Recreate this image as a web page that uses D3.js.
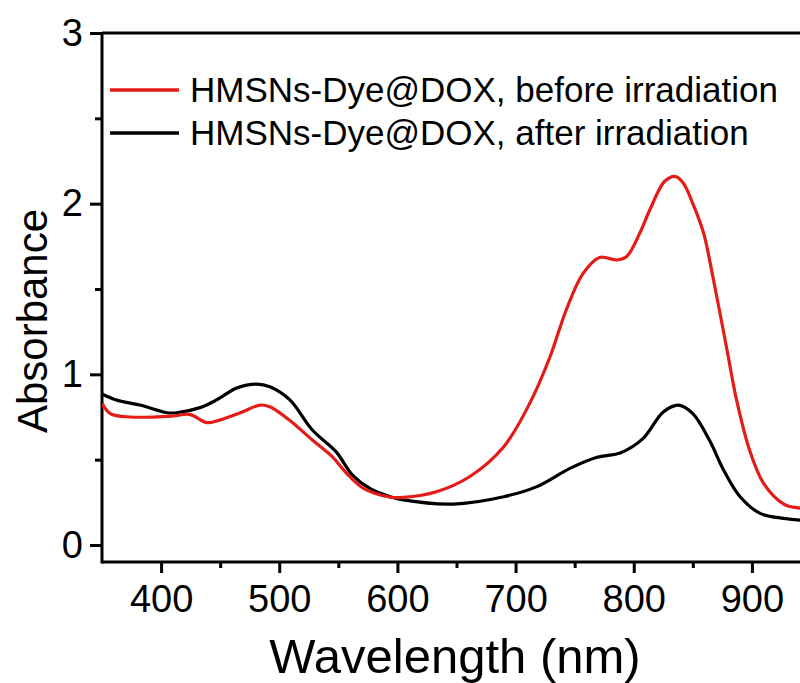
<!DOCTYPE html>
<html><head><meta charset="utf-8">
<script src="https://cdn.jsdelivr.net/npm/d3@7"></script>
<style>body{margin:0;background:#fff;} svg{display:block;font-family:"Liberation Sans",Arial,sans-serif;}</style>
</head><body><svg id="c" width="800" height="683"></svg>
<script>
const seriesNames = ["HMSNs-Dye@DOX, before irradiation", "HMSNs-Dye@DOX, after irradiation"];
const seriesColors = ["#e41b17", "#000000"];
const beforeNm = [350,357,374,410,424,439,447,467,484,492,509,528,545,557,571,594,605,633,661,690,712,729,743,757,771,786,794,805,814,826,835,842,850,859,867,879,887,898,910,927,941,950];
const beforeAbs = [.83,.77,.75,.756,.765,.717,.727,.775,.82,.81,.73,.615,.517,.42,.333,.28,.279,.312,.40,.576,.83,1.10,1.38,1.59,1.685,1.67,1.69,1.826,1.97,2.13,2.16,2.12,2.0,1.83,1.57,1.14,.85,.556,.36,.24,.215,.205];
const afterNm = [350,362,382,405,413,433,447,464,481,492,509,528,548,562,577,594,605,647,690,718,746,769,789,808,825,838,850,864,876,890,907,927,941,950];
const afterAbs = [.885,.85,.82,.775,.775,.805,.85,.92,.943,.927,.85,.674,.547,.41,.33,.283,.264,.24,.283,.342,.449,.514,.541,.625,.78,.82,.77,.615,.44,.283,.185,.156,.146,.145];
const xMajorTicks = [400,500,600,700,800,900];
const xMinorTicks = [450,550,650,750,850];
const yMajorTicks = [0,1,2,3];
const yMinorTicks = [0.5,1.5,2.5];

const svg = d3.select("#c");
const L = 102, R = 811, T = 33, B = 562;
const x = d3.scaleLinear().domain([350,950]).range([L,R]);
const y = d3.scaleLinear().domain([0,3]).range([545,T]);

svg.append("defs").append("clipPath").attr("id","clip")
  .append("rect").attr("x",L).attr("y",T).attr("width",R-L).attr("height",B-T);

const xAxis = svg.append("g").attr("transform",`translate(0,${B})`)
  .call(d3.axisBottom(x).tickValues(xMajorTicks).tickSize(11).tickPadding(12).tickSizeOuter(0).tickFormat(d3.format("d")));
svg.append("g").attr("transform",`translate(0,${B})`)
  .call(d3.axisBottom(x).tickValues(xMinorTicks).tickSize(6).tickFormat("").tickSizeOuter(0))
  .select(".domain").remove();
const yAxis = svg.append("g").attr("transform",`translate(${L},0)`)
  .call(d3.axisLeft(y).tickValues(yMajorTicks).tickSize(12).tickPadding(7).tickSizeOuter(0).tickFormat(d3.format("d")));
svg.append("g").attr("transform",`translate(${L},0)`)
  .call(d3.axisLeft(y).tickValues(yMinorTicks).tickSize(7).tickFormat("").tickSizeOuter(0))
  .select(".domain").remove();
svg.selectAll(".tick line").attr("stroke","#000").attr("stroke-width",3);
svg.selectAll(".tick text").attr("fill","#000").style("font-size","38px");
xAxis.select(".domain").remove();
yAxis.select(".domain").remove();
svg.append("line").attr("x1",L).attr("x2",R).attr("y1",B).attr("y2",B).attr("stroke","#000").attr("stroke-width",3);
svg.append("line").attr("x1",L).attr("x2",L).attr("y1",T).attr("y2",B+1.5).attr("stroke","#000").attr("stroke-width",3);
svg.append("line").attr("x1",L).attr("x2",R).attr("y1",T).attr("y2",T).attr("stroke","#000").attr("stroke-width",3);

const line = d3.line().x(d=>x(d[0])).y(d=>y(d[1])).curve(d3.curveCatmullRom.alpha(0.5));
const series = [d3.zip(beforeNm,beforeAbs), d3.zip(afterNm,afterAbs)];
const g = svg.append("g").attr("clip-path","url(#clip)");
[1,0].forEach(i=>{
  g.append("path").datum(series[i]).attr("d",line).attr("fill","none")
   .attr("stroke",seriesColors[i]).attr("stroke-width",3.2).attr("stroke-linejoin","round");
});

const legY = [90,133];
seriesNames.forEach((n,i)=>{
  svg.append("line").attr("x1",110).attr("x2",179).attr("y1",legY[i]).attr("y2",legY[i])
    .attr("stroke",seriesColors[i]).attr("stroke-width",3.5);
  svg.append("text").attr("x",190).attr("y",legY[i]+12).text(n)
    .style("font-size","35px").attr("fill","#000");
});

svg.append("text").attr("x",455).attr("y",673).attr("text-anchor","middle")
  .style("font-size","49px").text("Wavelength (nm)");
svg.append("text").attr("transform","translate(47,321) rotate(-90)").attr("text-anchor","middle")
  .style("font-size","42px").text("Absorbance");
</script></body></html>
